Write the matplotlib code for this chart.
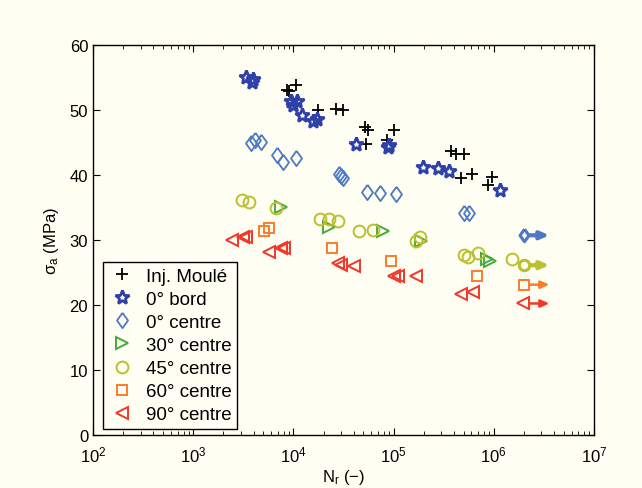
import matplotlib
matplotlib.use("Agg")
import matplotlib.pyplot as plt

plt.rcParams['font.family'] = ['Liberation Sans', 'DejaVu Sans']
plt.rcParams['mathtext.fontset'] = 'custom'
plt.rcParams['mathtext.rm'] = 'Liberation Sans'
plt.rcParams['mathtext.it'] = 'Liberation Sans'

# Inj. Moulé
inj_n = [8590, 9000, 10570, 17540, 26600, 31300, 51900, 55600, 53100, 86300, 101000,
         377000, 424000, 510000, 475000, 613000, 951000, 887000]
inj_s = [53.1, 52.9, 53.8, 50.0, 50.1, 50.0, 47.4, 46.9, 44.7, 45.4, 46.9,
         43.7, 43.2, 43.2, 39.5, 40.1, 39.6, 38.4]

# 0° bord
b0_n = [3335, 3918, 3830, 9420, 10810, 9860, 12130, 15640, 17150, 42200, 90300, 88300,
        198000, 280000, 361000, 1143000]
b0_s = [55.1, 54.8, 54.3, 51.4, 51.4, 50.7, 49.2, 48.3, 48.6, 44.7, 44.6, 44.3,
        41.2, 41.0, 40.6, 37.6]

# 0° centre
c0_n = [3740, 4100, 4710, 6820, 7830, 10570, 28500, 29900, 31300, 54300, 73400, 106000,
        509000, 571000]
c0_s = [44.9, 45.3, 45.0, 43.0, 42.0, 42.6, 40.1, 39.8, 39.5, 37.3, 37.2, 37.0,
        34.2, 34.2]

# 30° centre
c30_n = [7480, 22600, 78700, 189000, 867000, 908000]
c30_s = [35.0, 31.9, 31.3, 29.8, 27.0, 26.7]

# 45° centre
c45_n = [3040, 3570, 6660, 18400, 22600, 27900, 45200, 62500, 168000, 185000,
         510000, 558000, 704000, 1510000]
c45_s = [36.1, 35.8, 34.9, 33.2, 33.2, 32.9, 31.3, 31.5, 29.8, 30.5,
         27.6, 27.3, 27.9, 27.1]

# 60° centre
c60_n = [5050, 5670, 24300, 94600, 689000]
c60_s = [31.3, 31.8, 28.8, 26.7, 24.4]

# 90° centre
c90_n = [2415, 3110, 3330, 5680, 7480, 8020, 27900, 29900, 40300, 101000, 111000,
         168000, 475000, 628000]
c90_s = [29.9, 30.4, 30.4, 28.2, 28.8, 28.7, 26.4, 26.1, 25.9, 24.4, 24.4,
         24.4, 21.6, 21.9]

# run-outs (non-broken specimens)
runout_n = [2000000, 2000000, 2000000, 1950000]
runout_s = [30.7, 26.1, 23.1, 20.2]
runout_end = 3.6e6

labels = ['Inj. Moulé', '0° bord', '0° centre', '30° centre', '45° centre',
          '60° centre', '90° centre']

bg = '#fefef2'
col_inj = 'black'
col_b0 = '#2f40a8'
col_c0 = '#4f78c4'
col_30 = '#46aa3a'
col_45 = '#bcbf2e'
col_60 = '#fb7b2c'
col_90 = '#f2372a'

diamond = [(0, 1), (0.72, 0), (0, -1), (-0.72, 0), (0, 1)]

fig = plt.figure(figsize=(6.42, 4.89), dpi=100, facecolor=bg)
ax = fig.add_axes([0.145, 0.109, 0.780, 0.797], facecolor=bg)

ax.plot(inj_n, inj_s, '+', color=col_inj, ms=9, mew=1.3, ls='none', label=labels[0])
ax.plot(b0_n, b0_s, '*', color=col_b0, mfc='none', ms=10, mew=2.0, ls='none', label=labels[1])
ax.plot(c0_n, c0_s, marker=diamond, color=col_c0, mfc='none', ms=11, mew=1.3, ls='none', label=labels[2])
ax.plot(c30_n, c30_s, '>', color=col_30, mfc='none', ms=9, mew=1.4, ls='none', label=labels[3])
ax.plot(c45_n, c45_s, 'o', color=col_45, mfc='none', ms=8.5, mew=1.4, ls='none', label=labels[4])
ax.plot(c60_n, c60_s, 's', color=col_60, mfc='none', ms=7, mew=1.4, ls='none', label=labels[5])
ax.plot(c90_n, c90_s, '<', color=col_90, mfc='none', ms=9, mew=1.4, ls='none', label=labels[6])

# run-out markers with arrows
ro_style = [(diamond, col_c0, 9, 3.0), ('o', col_45, 7.5, 3.0), ('s', col_60, 6.5, 1.8), ('<', col_90, 8.5, 1.8)]
for (m, c, ms, lw), n, s in zip(ro_style, runout_n, runout_s):
    ax.annotate('', xy=(runout_end, s), xytext=(n, s),
                arrowprops=dict(arrowstyle='-|>,head_length=0.5,head_width=0.22', color=c, lw=lw,
                                shrinkA=0, shrinkB=0))
    ax.plot([n], [s], marker=m, color=c, mfc=bg, ms=ms, mew=2.2 if lw > 2 else 1.4, ls='none', zorder=5)

ax.set_xscale('log')
ax.set_xlim(1e2, 1e7)
ax.set_ylim(0, 60)
ax.set_yticks(range(0, 61, 10))
ax.set_xlabel('N$_r$ (−)', fontsize=12, labelpad=2)
ax.set_ylabel('σ$_a$ (MPa)', fontsize=12, labelpad=6)
ax.tick_params(which='both', direction='in', top=True, right=True, labelsize=12)
ax.tick_params(axis='x', which='major', pad=7)
ax.tick_params(which='major', length=5)
ax.tick_params(which='minor', length=3)
for sp in ax.spines.values():
    sp.set_linewidth(1.0)

leg = ax.legend(loc='lower left', bbox_to_anchor=(0.012, 0.005), fontsize=13.5, frameon=True,
                fancybox=False, edgecolor='black', facecolor=bg, framealpha=1,
                handlelength=1.4, handletextpad=0.6, labelspacing=0.32, borderpad=0.3,
                borderaxespad=0.2)
leg.get_frame().set_linewidth(1.0)

fig.savefig('out.png', dpi=100, facecolor=bg)
